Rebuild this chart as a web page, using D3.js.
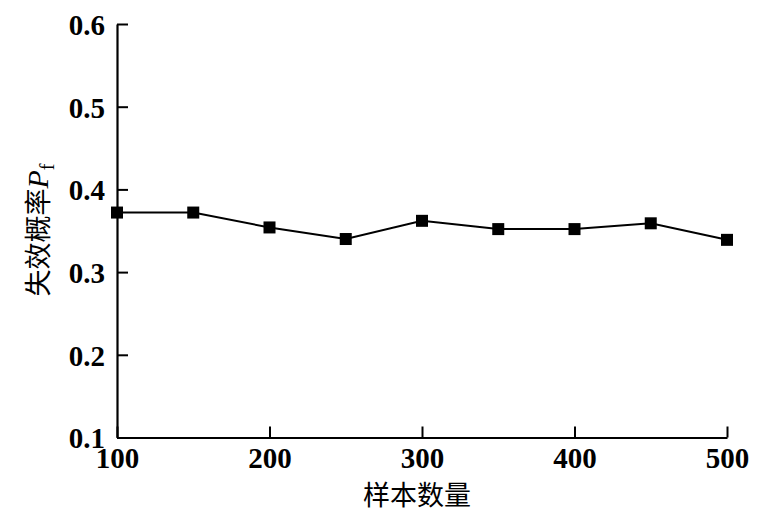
<!DOCTYPE html>
<html><head><meta charset="utf-8">
<script src="https://cdn.jsdelivr.net/npm/d3@7"></script>
<style>body{margin:0;background:#fff}</style>
</head><body>
<svg id="c" width="781" height="526"></svg>
<script>
const sampleSizes = [100,150,200,250,300,350,400,450,500];
const failureProb = [0.372,0.372,0.354,0.340,0.362,0.352,0.352,0.359,0.339];
const xTicks = [100,200,300,400,500];
const yTicks = [0.1,0.2,0.3,0.4,0.5,0.6];
const xTitle = "样本数量";
const yTitle = "失效概率";

const svg = d3.select("#c");
const m = {l:117, r:727, t:24, b:437.5};
const x = d3.scaleLinear().domain([100,500]).range([m.l,m.r]);
const y = d3.scaleLinear().domain([0.1,0.6]).range([m.b,m.t]);
const serif = "'Liberation Serif','Times New Roman',serif";
const cjk = "'Noto Sans CJK SC',sans-serif";

const xa = svg.append("g").attr("transform",`translate(0,${m.b})`)
  .call(d3.axisBottom(x).tickValues(xTicks).tickSize(-11).tickPadding(20).tickSizeOuter(0).tickFormat(d3.format("d")));
const ya = svg.append("g").attr("transform",`translate(${m.l},0)`)
  .call(d3.axisLeft(y).tickValues(yTicks).tickSize(-11).tickPadding(12).tickSizeOuter(0).tickFormat(d3.format(".1f")));
[xa,ya].forEach(a=>{
  a.select(".domain").attr("stroke","#000").attr("stroke-width",2.2);
  a.selectAll(".tick line").attr("stroke","#000").attr("stroke-width",2);
  a.selectAll(".tick text").attr("fill","#000").style("font-family",serif).style("font-size","29px").style("font-weight","bold");
});
xa.selectAll(".tick text").attr("dy",0).attr("y",30.5);
ya.selectAll(".tick text").attr("dy","0.36em").attr("x",-12);

const pts = sampleSizes.map((s,i)=>[s,failureProb[i]]);
svg.append("path").datum(pts)
  .attr("fill","none").attr("stroke","#000").attr("stroke-width",2)
  .attr("d",d3.line().x(d=>x(d[0])).y(d=>y(d[1])));
svg.selectAll("rect.pt").data(pts).join("rect").attr("class","pt")
  .attr("x",d=>x(d[0])-6).attr("y",d=>y(d[1])-6).attr("width",12).attr("height",12).attr("fill","#000");

svg.append("text").attr("x",417).attr("y",505).attr("text-anchor","middle")
  .style("font-family",cjk).style("font-size","27px").attr("fill","#000").text(xTitle);

const yt = svg.append("text").attr("transform","translate(48,230) rotate(-90)").attr("text-anchor","middle").attr("fill","#000");
yt.append("tspan").style("font-family",cjk).style("font-size","27px").text(yTitle);
yt.append("tspan").style("font-family",serif).style("font-style","italic").style("font-size","30px").text("P");
yt.append("tspan").style("font-family",serif).style("font-size","20px").attr("dy",6).text("f");
</script>
</body></html>
